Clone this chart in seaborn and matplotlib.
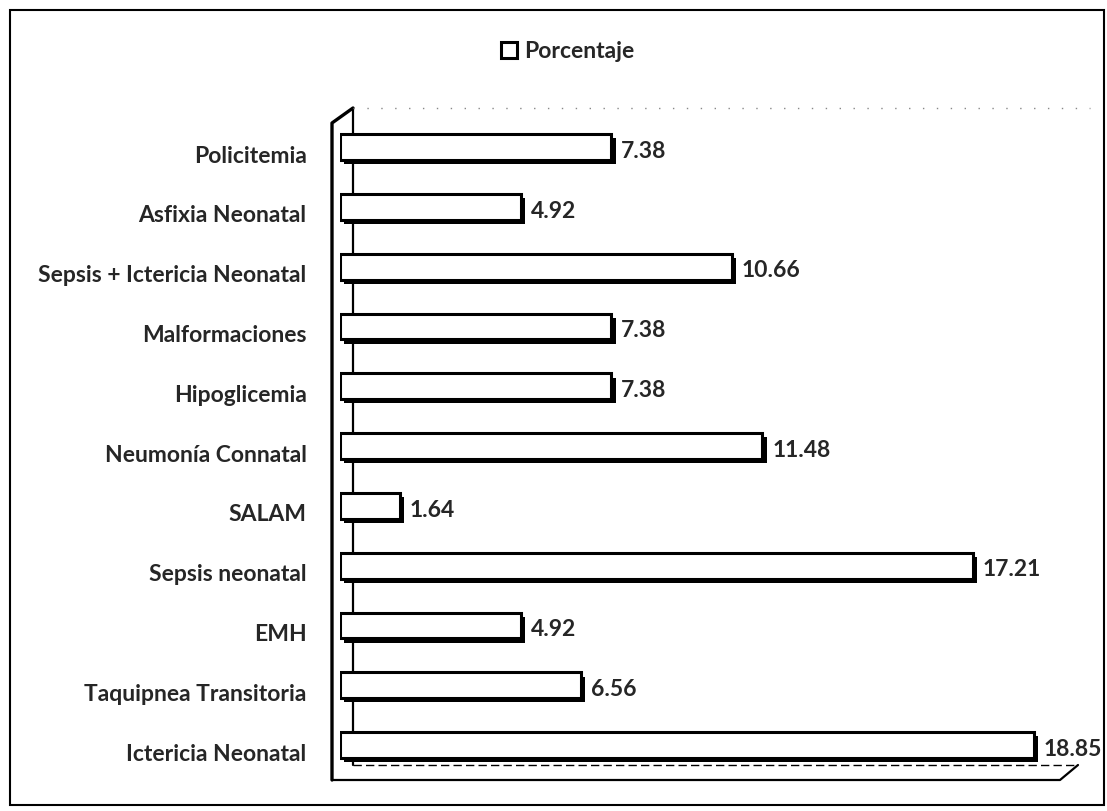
"""Porcentaje de diagnósticos neonatales - barras horizontales estilo Excel."""

import matplotlib.pyplot as plt
import matplotlib.patheffects as pe
import matplotlib.transforms as mtransforms
import pandas as pd
import seaborn as sns
from matplotlib.lines import Line2D
from matplotlib.patches import Rectangle

CATEGORIES = [
    "Policitemia",
    "Asfixia Neonatal",
    "Sepsis + Ictericia Neonatal",
    "Malformaciones",
    "Hipoglicemia",
    "Neumonía Connatal",
    "SALAM",
    "Sepsis neonatal",
    "EMH",
    "Taquipnea Transitoria",
    "Ictericia Neonatal",
]
PORCENTAJE = [7.38, 4.92, 10.66, 7.38, 7.38, 11.48, 1.64, 17.21, 4.92, 6.56, 18.85]
SERIES_NAME = "Porcentaje"

AX_RECT = [0.307, 0.0444, 0.665, 0.811]
FIG_W, FIG_H = 1107, 811
FONT_SIZE = 16.5


def px_to_axes(px, py):
    """Pasa coordenadas de píxel (origen arriba-izq) a fracción de ejes."""
    left = AX_RECT[0] * FIG_W
    width = AX_RECT[2] * FIG_W
    bottom = FIG_H - AX_RECT[1] * FIG_H
    height = AX_RECT[3] * FIG_H
    return (px - left) / width, (bottom - py) / height


def frame_line(ax, pts, **kw):
    xs, ys = zip(*[px_to_axes(x, y) for x, y in pts])
    ax.add_line(Line2D(xs, ys, transform=ax.transAxes, clip_on=False, **kw))


def main() -> None:
    df = pd.DataFrame({"diagnostico": CATEGORIES, SERIES_NAME: PORCENTAJE})

    sns.set_theme(style="white")
    plt.rcParams["font.family"] = ["Lato", "DejaVu Sans"]

    fig = plt.figure(figsize=(11.07, 8.11), dpi=100)
    ax = fig.add_axes(AX_RECT)

    sns.barplot(
        data=df,
        x=SERIES_NAME,
        y="diagnostico",
        order=CATEGORIES,
        orient="h",
        color="white",
        edgecolor="black",
        linewidth=2.2,
        width=0.43,
        ax=ax,
    )
    # sombra para imitar el efecto 3D
    for patch in ax.patches:
        patch.set_zorder(2)
        patch.set_path_effects(
            [pe.SimplePatchShadow(offset=(3, -3), shadow_rgbFace="black", alpha=1.0), pe.Normal()]
        )

    # en el original (perspectiva 3D) los textos quedan algo más abajo que las barras
    for cont in ax.containers:
        texts = ax.bar_label(cont, fmt="%.2f", padding=6, fontsize=FONT_SIZE, fontweight="bold")
        for t in texts:
            t.xyann = (7, -3)

    ax.set_xlim(0, 20)
    ax.set_xlabel("")
    ax.set_ylabel("")
    ax.set_xticks([])
    ax.tick_params(axis="y", length=0, pad=24, labelsize=FONT_SIZE)
    shift_ticks = mtransforms.ScaledTranslation(0, -7 / 100, fig.dpi_scale_trans)
    for lab in ax.get_yticklabels():
        lab.set_fontweight("bold")
        lab.set_transform(lab.get_transform() + shift_ticks)
    for side in ["top", "right", "bottom", "left"]:
        ax.spines[side].set_visible(False)

    # pared y piso (decoración 3D)
    frame_line(ax, [(353, 108), (353, 765)], color="black", lw=1.6, zorder=0.5)
    frame_line(ax, [(332, 780), (332, 123), (353, 108)], color="black", lw=2.4, zorder=0.5)
    frame_line(ax, [(332, 780), (1060, 780), (1078, 765)], color="black", lw=1.6, zorder=0.5)
    frame_line(ax, [(353, 765), (1078, 765)], color="black", lw=1.0, ls=(0, (6, 3)), zorder=0.5)
    frame_line(ax, [(353, 108), (1090, 108)], color="#888888", lw=1.0, ls=(0, (1, 9)), zorder=0.5)

    fig.legend(
        handles=[Rectangle((0, 0), 1, 1, facecolor="white", edgecolor="black", linewidth=2.2)],
        labels=[SERIES_NAME],
        loc="center",
        bbox_to_anchor=(0.513, 0.936),
        frameon=False,
        handlelength=0.7,
        handleheight=0.7,
        handletextpad=0.3,
        prop={"weight": "bold", "size": FONT_SIZE},
    )

    fig.add_artist(Rectangle((0.009, 0.0074), 0.988, 0.980, transform=fig.transFigure,
                             fill=False, edgecolor="black", linewidth=1.5))

    fig.savefig("out.png", dpi=100)
    plt.close(fig)


if __name__ == "__main__":
    main()
